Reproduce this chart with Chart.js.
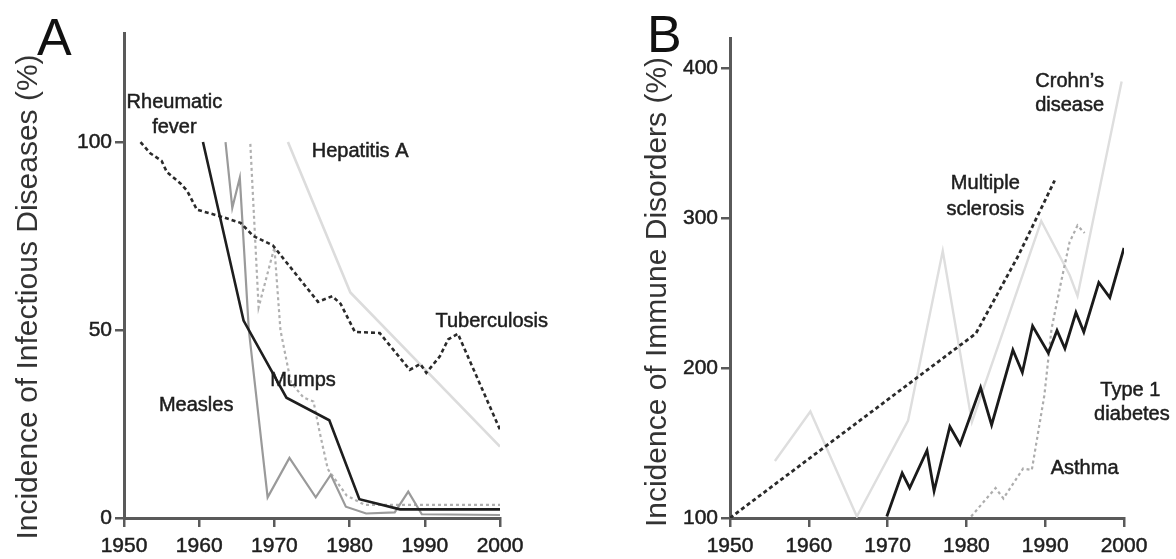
<!DOCTYPE html>
<html>
<head>
<meta charset="utf-8">
<script src="https://cdn.jsdelivr.net/npm/chart.js@4.4.0/dist/chart.umd.min.js"></script>
<style>
  body { margin: 0; background: #fff; width: 1176px; height: 559px; overflow: hidden; position: relative; }
  .panel { position: absolute; top: 0; height: 559px; }
  #wrapA { left: 0; width: 600px; }
  #wrapB { left: 600px; width: 576px; }
  .letter { position: absolute; font-family: "Liberation Sans", Arial, sans-serif; font-size: 52px; line-height: 52px; color: #111; }
</style>
</head>
<body>
<div class="panel" id="wrapA"><canvas id="chartA" width="600" height="559"></canvas></div>
<div class="panel" id="wrapB"><canvas id="chartB" width="576" height="559"></canvas></div>
<div class="letter" style="left:37px; top:11px;">A</div>
<div class="letter" style="left:647px; top:8px;">B</div>
<script>
// tick labels
const xTicks = [1950, 1960, 1970, 1980, 1990, 2000];
const yTicksA = [0, 50, 100];
const yTicksB = [100, 200, 300, 400];

// A: infectious diseases (%)
const tuberculosisYears = [1952.2, 1953.5, 1955, 1955.7, 1957.5, 1958.4, 1959.7, 1963.2, 1965.5, 1967.2, 1969.8, 1972.4, 1975.8, 1977.7, 1978.8, 1980.7, 1984, 1988, 1989.4, 1990.2, 1992, 1993.1, 1994.4, 2000];
const tuberculosisValues = [100, 97, 95, 92, 89, 87, 82, 80, 78.5, 75, 72.5, 66, 57.5, 59, 57, 49.5, 49.2, 39.4, 41, 38.6, 43, 47.5, 49, 23.5];
const rheumaticYears = [1960.5, 1965.9, 1971.6, 1977.3, 1981.3, 1986.7, 2000];
const rheumaticValues = [100, 52.5, 32, 26, 5, 2.3, 2.3];
const hepatitisYears = [1971.8, 1980.1, 2000];
const hepatitisValues = [100, 60, 19];
const measlesYears = [1963.5, 1964.4, 1965.4, 1966.6, 1969.1, 1972, 1975.5, 1977.5, 1979.5, 1982.2, 1986, 1987.8, 1989.6, 2000];
const measlesValues = [100, 82.5, 90.5, 50, 5.5, 16, 5.5, 11.5, 3, 1.2, 1.5, 7, 1, 0.8];
const mumpsYears = [1966.8, 1967.9, 1970, 1970.8, 1972.2, 1973.9, 1975.2, 1976, 1977.1, 1979.6, 1982, 2000];
const mumpsValues = [99.5, 56, 72, 50, 36, 32, 31, 23, 13, 6, 3.5, 3.5];

// B: immune disorders (%)
const msYears = [1950, 1981.2, 1986.6, 1991.2];
const msValues = [100, 223, 275, 325];
const diabetesYears = [1969.9, 1971.85, 1972.8, 1975, 1975.9, 1977.9, 1979.2, 1981.8, 1983.2, 1985.9, 1987.1, 1988.4, 1990.4, 1991.5, 1992.5, 1993.9, 1994.9, 1996.8, 1998.2, 2000];
const diabetesValues = [101, 130, 120, 145, 118, 161, 149, 187, 162, 212, 197, 228, 210, 225, 213, 237, 224, 257, 247, 280];
const crohnsYears = [1955.7, 1960.2, 1966.1, 1972.6, 1977, 1980.7, 1989.5, 1993.1, 1994.1, 1999.7];
const crohnsValues = [138, 171, 101, 165, 278, 164, 298, 262, 248, 391];
const asthmaYears = [1980.6, 1983.7, 1984.7, 1987.2, 1988.3, 1989.9, 1990.8, 1992, 1993.1, 1994.1, 1995];
const asthmaValues = [101, 120, 113, 133, 132, 182, 226, 257, 284, 295, 290];

// series names written on the plot: [text, year, value]
const notesA = [
  ['Rheumatic', 1956.7, 110.5],
  ['fever', 1956.7, 104],
  ['Hepatitis A', 1981.4, 97.4],
  ['Tuberculosis', 1998.9, 52.4],
  ['Mumps', 1973.8, 36.5],
  ['Measles', 1959.6, 29.9]
];
const notesB = [
  ['Crohn\u2019s', 1993.1, 391],
  ['disease', 1993.1, 375],
  ['Multiple', 1982.4, 323],
  ['sclerosis', 1982.4, 306],
  ['Type 1', 2000.8, 185],
  ['diabetes', 2001, 169],
  ['Asthma', 1995, 133]
];

const FONT = '"Liberation Sans", Arial, sans-serif';

function pts(xs, ys) {
  return xs.map((x, i) => ({ x: x, y: ys[i] }));
}

function line(label, xs, ys, color, width, dash) {
  return {
    label: label,
    data: pts(xs, ys),
    borderColor: color,
    borderWidth: width,
    borderDash: dash || [],
    pointRadius: 0,
    tension: 0,
    fill: false,
    borderCapStyle: 'butt',
    borderJoinStyle: 'miter'
  };
}

// series names on the lines, plus the rotated y title
const notesPlugin = {
  id: 'notes',
  afterDatasetsDraw(chart, args, opts) {
    const ctx = chart.ctx;
    ctx.save();
    ctx.font = '20px ' + FONT;
    ctx.fillStyle = '#1e1e1e';
    ctx.strokeStyle = '#1e1e1e';
    ctx.lineWidth = 0.5;
    ctx.textAlign = 'center';
    ctx.textBaseline = 'middle';
    opts.items.forEach(n => {
      const x = chart.scales.x.getPixelForValue(n[1]);
      const y = chart.scales.y.getPixelForValue(n[2]);
      ctx.fillText(n[0], x, y);
      ctx.strokeText(n[0], x, y);
    });
    ctx.restore();

    ctx.save();
    ctx.font = '30px ' + FONT;
    ctx.fillStyle = '#333';
    ctx.textAlign = 'center';
    ctx.textBaseline = 'middle';
    ctx.translate(opts.titleX, opts.titleY);
    ctx.rotate(-Math.PI / 2);
    ctx.fillText(opts.title, 0, 0);
    ctx.restore();
  }
};

function axisOpts(ticks, min, max, pad, extra) {
  return Object.assign({
    type: 'linear',
    min: min,
    max: max,
    afterBuildTicks: s => { s.ticks = ticks.map(v => ({ value: v })); },
    ticks: {
      color: '#1e1e1e', font: { family: FONT, size: 21 }, padding: pad,
      textStrokeColor: '#1e1e1e', textStrokeWidth: 0.5,
      autoSkip: false, maxRotation: 0, callback: v => String(v)
    },
    grid: { drawOnChartArea: false, drawTicks: true, tickLength: 9, color: '#5a5a5a', lineWidth: 2.5 },
    border: { display: true, color: '#5a5a5a', width: 3 }
  }, extra);
}

function makeChart(id, datasets, yTicks, yMin, yMax, yWidth, pad, notes, title, titleX, titleY) {
  new Chart(document.getElementById(id), {
    type: 'line',
    data: { datasets: datasets },
    options: {
      responsive: false,
      animation: false,
      layout: { padding: pad },
      plugins: {
        legend: { display: false },
        tooltip: { enabled: false },
        notes: { items: notes, title: title, titleX: titleX, titleY: titleY }
      },
      scales: {
        x: axisOpts(xTicks, 1950, 2000, 7, { afterFit: s => { s.height = 41; } }),
        y: axisOpts(yTicks, yMin, yMax, 3, { afterFit: s => { s.width = yWidth; } })
      }
    },
    plugins: [notesPlugin]
  });
}

makeChart('chartA', [
  line('Rheumatic fever', rheumaticYears, rheumaticValues, '#1e1e1e', 2.6),
  line('Tuberculosis', tuberculosisYears, tuberculosisValues, '#2a2a2a', 2.6, [4, 3]),
  line('Measles', measlesYears, measlesValues, '#9a9a9a', 2.2),
  line('Mumps', mumpsYears, mumpsValues, '#b0b0b0', 2.2, [3, 3]),
  line('Hepatitis A', hepatitisYears, hepatitisValues, '#dcdcdc', 2.6)
], yTicksA, 0, 129, 124, { top: 33, right: 100, left: 0, bottom: 0 }, notesA,
  'Incidence of Infectious Diseases (%)', 29, 297);

makeChart('chartB', [
  line('Type 1 diabetes', diabetesYears, diabetesValues, '#1a1a1a', 2.8),
  line('Multiple sclerosis', msYears, msValues, '#2a2a2a', 2.8, [4, 3]),
  line('Asthma', asthmaYears, asthmaValues, '#adadad', 2.2, [3, 3]),
  line('Crohn\u2019s disease', crohnsYears, crohnsValues, '#dedede', 2.4)
], yTicksB, 100, 420, 130, { top: 38, right: 52, left: 0, bottom: 0 }, notesB,
  'Incidence of Immune Disorders (%)', 58, 292);
</script>
</body>
</html>
